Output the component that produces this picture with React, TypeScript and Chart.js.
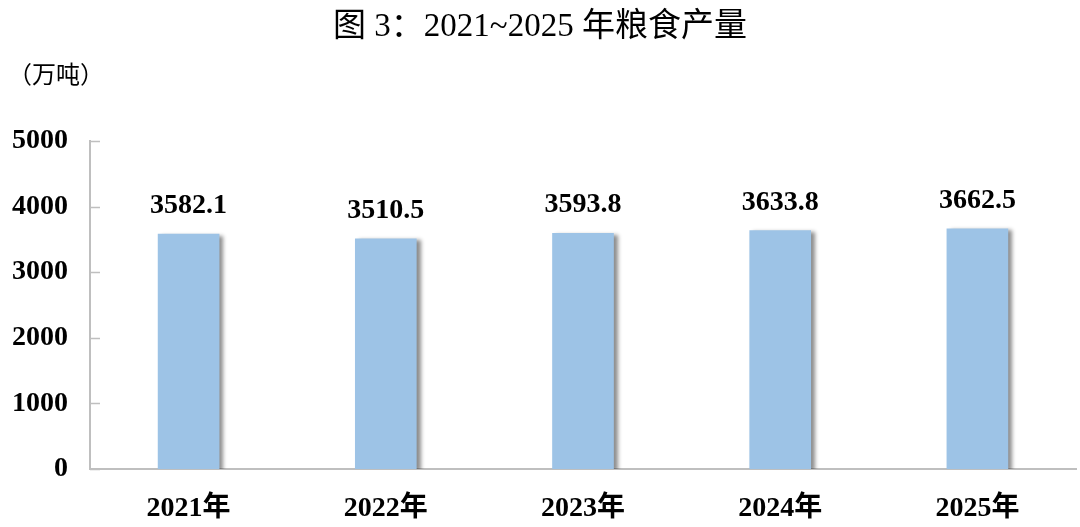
import React, { useEffect, useRef } from "react";
import { Chart, registerables } from "chart.js";

Chart.register(...registerables);

const title = "图 3：2021~2025 年粮食产量";
const unitLabel = "（万吨）";
const categories = ["2021年", "2022年", "2023年", "2024年", "2025年"];
const production = [3582.1, 3510.5, 3593.8, 3633.8, 3662.5];
const yMin = 0;
const yMax = 5000;
const yStep = 1000;

const FONT = "'Liberation Serif', 'Noto Sans CJK SC', serif";
const AXIS_COLOR = "#bfbfbf";
const BAR_COLOR = "#9dc3e6";

const decorPlugin = {
  id: "decor",
  beforeDatasetsDraw(chart: any) {
    const ctx = chart.ctx;
    ctx.save();
    ctx.shadowColor = "rgba(0,0,0,0.45)";
    ctx.shadowOffsetX = 4;
    ctx.shadowOffsetY = 2;
    ctx.shadowBlur = 4;
  },
  afterDatasetsDraw(chart: any) {
    const ctx = chart.ctx;
    ctx.restore();
    const y = chart.scales.y;
    ctx.save();
    ctx.strokeStyle = AXIS_COLOR;
    ctx.lineWidth = 1.5;
    for (let v = yMin; v <= yMax; v += yStep) {
      const py = Math.round(y.getPixelForValue(v)) + 0.5;
      ctx.beginPath();
      ctx.moveTo(y.right, py);
      ctx.lineTo(y.right + 10, py);
      ctx.stroke();
    }
    const meta = chart.getDatasetMeta(0);
    ctx.fillStyle = "#000";
    ctx.font = `bold 28px ${FONT}`;
    ctx.textAlign = "center";
    ctx.textBaseline = "alphabetic";
    meta.data.forEach((bar: any, i: number) => {
      ctx.fillText(production[i].toFixed(1), bar.x, bar.y - 21);
    });
    ctx.font = `33px ${FONT}`;
    ctx.textBaseline = "middle";
    ctx.fillText(title, 540, 27);
    ctx.font = `24px ${FONT}`;
    ctx.textAlign = "left";
    ctx.fillText(unitLabel, 8, 77);
    ctx.restore();
  },
};

export default function App() {
  const ref = useRef<HTMLCanvasElement | null>(null);
  useEffect(() => {
    if (!ref.current) return;
    const chart = new Chart(ref.current, {
      type: "bar",
      data: {
        labels: categories,
        datasets: [
          {
            data: production,
            backgroundColor: BAR_COLOR,
            borderWidth: 0,
            barThickness: 61,
          },
        ],
      },
      options: {
        animation: false,
        responsive: false,
        maintainAspectRatio: false,
        layout: { padding: { top: 141, right: 4, left: 0, bottom: 0 } },
        plugins: {
          legend: { display: false },
          title: { display: false },
          tooltip: { enabled: false },
        },
        scales: {
          x: {
            grid: { display: false },
            border: { display: true, color: AXIS_COLOR, width: 2 },
            ticks: {
              color: "#000",
              font: { family: FONT, size: 28, weight: "bold" },
              padding: 15,
              maxRotation: 0,
            },
            afterFit: (s: any) => {
              s.height = 58;
            },
          },
          y: {
            min: yMin,
            max: yMax,
            grid: { display: false, drawTicks: false },
            border: { display: true, color: AXIS_COLOR, width: 2 },
            ticks: {
              stepSize: yStep,
              color: "#000",
              font: { family: FONT, size: 28, weight: "bold" },
              padding: 22,
              callback: (v: any) => String(v),
            },
            afterFit: (s: any) => {
              s.width = 90;
            },
          },
        },
      },
      plugins: [decorPlugin],
    });
    return () => chart.destroy();
  }, []);
  return (
    <div style={{ position: "fixed", left: 0, top: 0, width: 1080, height: 527, background: "#fff" }}>
      <canvas ref={ref} width={1080} height={527} style={{ display: "block" }} />
    </div>
  );
}
